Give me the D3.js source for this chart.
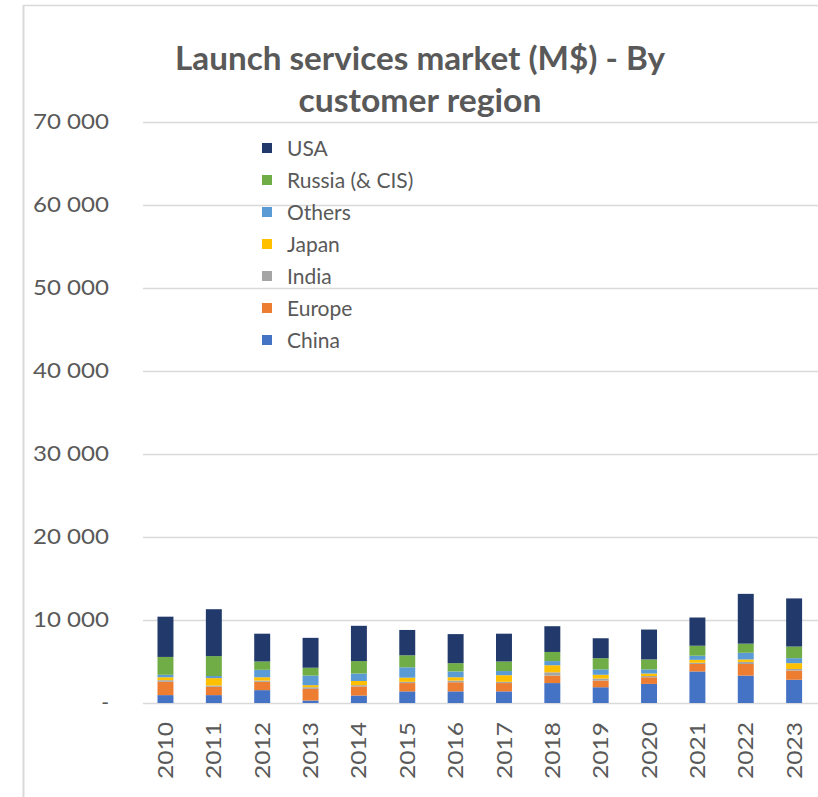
<!DOCTYPE html>
<html>
<head>
<meta charset="utf-8">
<script src="https://cdn.jsdelivr.net/npm/d3@7"></script>
<style>
  html, body { margin: 0; padding: 0; background: #ffffff; }
  svg { display: block; font-family: Lato, "Open Sans", sans-serif; }
</style>
</head>
<body>
<svg id="chart" width="818" height="797"></svg>
<script>
// ---- data ----
const years = ["2010","2011","2012","2013","2014","2015","2016","2017","2018","2019","2020","2021","2022","2023"];
const seriesNames = ["China","Europe","India","Japan","Others","Russia (& CIS)","USA"];
const seriesColors = ["#4472c4","#ed7d31","#a5a5a5","#ffc000","#5b9bd5","#70ad47","#22396b"];
const china  = [950, 950, 1550, 300, 900, 1400, 1400, 1400, 2400, 1900, 2300, 3800, 3300, 2800];
const europe = [1600, 1000, 1000, 1400, 1100, 1000, 1100, 1000, 900, 800, 800, 900, 1400, 1100];
const india  = [200, 150, 150, 200, 150, 150, 200, 150, 400, 250, 150, 150, 250, 200];
const japan  = [350, 900, 400, 250, 500, 500, 400, 800, 850, 450, 300, 350, 300, 700];
const others = [300, 250, 900, 1150, 900, 1250, 700, 500, 500, 650, 500, 500, 800, 600];
const russia = [2150, 2400, 1000, 950, 1500, 1450, 1000, 1150, 1100, 1350, 1200, 1200, 1100, 1400];
const usa    = [4850, 5650, 3350, 3600, 4250, 3050, 3500, 3350, 3100, 2400, 3600, 3400, 6000, 5800];
const yTickValues = [0, 10000, 20000, 30000, 40000, 50000, 60000, 70000];
const yTickLabels = ["-", "10 000", "20 000", "30 000", "40 000", "50 000", "60 000", "70 000"];
const legendOrder = ["USA","Russia (& CIS)","Others","Japan","India","Europe","China"];
const titleLines = ["Launch services market (M$) - By", "customer region"];

// ---- build table ----
const seriesValues = [china, europe, india, japan, others, russia, usa];
const table = years.map((yr, i) => {
  const row = { year: yr };
  seriesNames.forEach((s, k) => row[s] = seriesValues[k][i]);
  return row;
});
const color = d3.scaleOrdinal().domain(seriesNames).range(seriesColors);

const svg = d3.select("#chart");
const textColor = "#595959";

// frame
svg.append("line").attr("x1", 23).attr("x2", 818).attr("y1", 5.5).attr("y2", 5.5)
  .attr("stroke", "#d9d9d9").attr("stroke-width", 1.5);
svg.append("line").attr("x1", 23.5).attr("x2", 23.5).attr("y1", 5).attr("y2", 797)
  .attr("stroke", "#d9d9d9").attr("stroke-width", 2);

// scales
const x = d3.scaleBand().domain(years).range([141.3, 818.3]).paddingInner(0.67).paddingOuter(0.335);
const y = d3.scaleLinear().domain([0, 70000]).range([703, 122]);

// gridlines
svg.append("g")
  .selectAll("line").data(yTickValues).join("line")
  .attr("x1", 143).attr("x2", 818)
  .attr("y1", d => Math.round(y(d)) + 0.5).attr("y2", d => Math.round(y(d)) + 0.5)
  .attr("stroke", "#d9d9d9").attr("stroke-width", 1.5);

// y axis labels
const yAxis = svg.append("g").attr("transform", "translate(143,0)")
  .call(d3.axisLeft(y).tickValues(yTickValues).tickSize(0).tickPadding(34)
    .tickFormat((d, i) => yTickLabels[i]));
yAxis.select(".domain").remove();
yAxis.selectAll("text")
  .attr("fill", textColor).attr("font-size", 21).attr("font-family", "Lato, 'Open Sans', sans-serif")
  .each(function(d) { if (d !== 0) d3.select(this).attr("textLength", 76).attr("lengthAdjust", "spacingAndGlyphs"); });

// stacked bars
const stack = d3.stack().keys(seriesNames)(table);
svg.append("g").selectAll("g").data(stack).join("g")
  .attr("fill", d => color(d.key))
  .selectAll("rect").data(d => d).join("rect")
  .attr("x", d => x(d.data.year))
  .attr("width", x.bandwidth())
  .attr("y", d => y(d[1]))
  .attr("height", d => y(d[0]) - y(d[1]));

// x axis
const xAxis = svg.append("g").attr("transform", "translate(0,703)")
  .call(d3.axisBottom(x).tickSize(0));
xAxis.select(".domain").remove();
xAxis.selectAll("text")
  .attr("fill", textColor).attr("font-size", 21).attr("font-family", "Lato, 'Open Sans', sans-serif")
  .attr("transform", "rotate(-90)")
  .attr("text-anchor", "end")
  .attr("x", -19).attr("y", 0).attr("dy", "0.36em")
  .attr("textLength", 57).attr("lengthAdjust", "spacingAndGlyphs");

// title
const titleY = [70, 112];
const titleW = [490, 243];
svg.append("g").selectAll("text").data(titleLines).join("text")
  .attr("x", 420).attr("y", (d, i) => titleY[i])
  .attr("text-anchor", "middle")
  .attr("font-size", 33).attr("font-weight", "bold").attr("fill", textColor)
  .attr("textLength", (d, i) => titleW[i]).attr("lengthAdjust", "spacingAndGlyphs")
  .text(d => d);

// legend
const legend = svg.append("g").attr("transform", "translate(262,148)");
const lg = legend.selectAll("g").data(legendOrder).join("g")
  .attr("transform", (d, i) => `translate(0,${i * 32})`);
lg.append("rect").attr("x", 0).attr("y", -5).attr("width", 10).attr("height", 10)
  .attr("fill", d => color(d));
lg.append("text").attr("x", 25).attr("y", 0).attr("dy", "0.36em")
  .attr("font-size", 21).attr("fill", textColor)
  .text(d => d);
</script>
</body>
</html>
